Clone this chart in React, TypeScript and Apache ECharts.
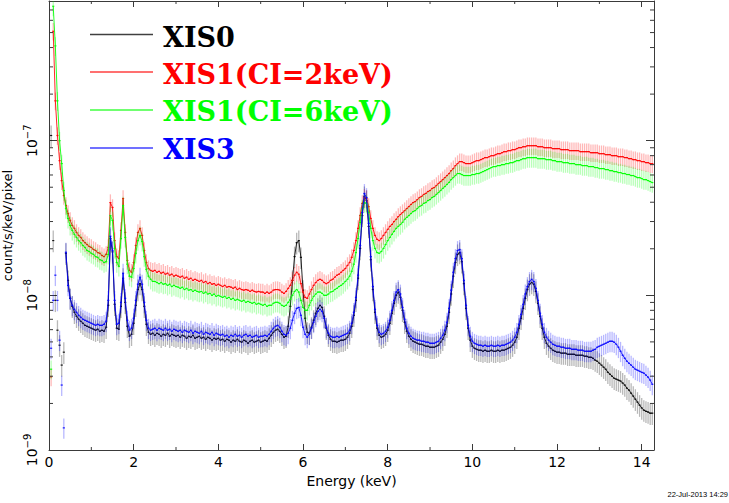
import React, { useEffect, useRef } from "react";
import * as echarts from "echarts";

// Energy bin centres (keV)
const energies = [
  0.05, 0.1, 0.15, 0.2, 0.25, 0.3, 0.35, 0.4, 0.45, 0.5, 0.55, 0.6, 0.65, 0.7, 0.75, 0.8, 0.85, 0.9, 0.95, 1,
  1.05, 1.1, 1.15, 1.2, 1.25, 1.3, 1.35, 1.4, 1.45, 1.5, 1.55, 1.6, 1.65, 1.7, 1.75, 1.8, 1.85, 1.9, 1.95, 2,
  2.05, 2.1, 2.15, 2.2, 2.25, 2.3, 2.35, 2.4, 2.45, 2.5, 2.55, 2.6, 2.65, 2.7, 2.75, 2.8, 2.85, 2.9, 2.95, 3,
  3.05, 3.1, 3.15, 3.2, 3.25, 3.3, 3.35, 3.4, 3.45, 3.5, 3.55, 3.6, 3.65, 3.7, 3.75, 3.8, 3.85, 3.9, 3.95, 4,
  4.05, 4.1, 4.15, 4.2, 4.25, 4.3, 4.35, 4.4, 4.45, 4.5, 4.55, 4.6, 4.65, 4.7, 4.75, 4.8, 4.85, 4.9, 4.95, 5,
  5.05, 5.1, 5.15, 5.2, 5.25, 5.3, 5.35, 5.4, 5.45, 5.5, 5.55, 5.6, 5.65, 5.7, 5.75, 5.8, 5.85, 5.9, 5.95, 6,
  6.05, 6.1, 6.15, 6.2, 6.25, 6.3, 6.35, 6.4, 6.45, 6.5, 6.55, 6.6, 6.65, 6.7, 6.75, 6.8, 6.85, 6.9, 6.95, 7,
  7.05, 7.1, 7.15, 7.2, 7.25, 7.3, 7.35, 7.4, 7.45, 7.5, 7.55, 7.6, 7.65, 7.7, 7.75, 7.8, 7.85, 7.9, 7.95, 8,
  8.05, 8.1, 8.15, 8.2, 8.25, 8.3, 8.35, 8.4, 8.45, 8.5, 8.55, 8.6, 8.65, 8.7, 8.75, 8.8, 8.85, 8.9, 8.95, 9,
  9.05, 9.1, 9.15, 9.2, 9.25, 9.3, 9.35, 9.4, 9.45, 9.5, 9.55, 9.6, 9.65, 9.7, 9.75, 9.8, 9.85, 9.9, 9.95, 10,
  10.05, 10.1, 10.15, 10.2, 10.25, 10.3, 10.35, 10.4, 10.45, 10.5, 10.55, 10.6, 10.65, 10.7, 10.75, 10.8, 10.85, 10.9, 10.95, 11,
  11.05, 11.1, 11.15, 11.2, 11.25, 11.3, 11.35, 11.4, 11.45, 11.5, 11.55, 11.6, 11.65, 11.7, 11.75, 11.8, 11.85, 11.9, 11.95, 12,
  12.05, 12.1, 12.15, 12.2, 12.25, 12.3, 12.35, 12.4, 12.45, 12.5, 12.55, 12.6, 12.65, 12.7, 12.75, 12.8, 12.85, 12.9, 12.95, 13,
  13.05, 13.1, 13.15, 13.2, 13.25, 13.3, 13.35, 13.4, 13.45, 13.5, 13.55, 13.6, 13.65, 13.7, 13.75, 13.8, 13.85, 13.9, 13.95, 14,
  14.05, 14.1, 14.15, 14.2, 14.25,
];

// Values in units of 1e-9 count/s/keV/pixel
const valueUnit = 1e-9;

const xis0 = [
  108, 22.6, 9.28, 5.95, 4.76, 3.54, 4.29, 18.7, 12.5, 9.56, 8.49, 7.77, 7.32, 7.01, 6.8, 6.6, 6.4, 6.31, 6.22, 6.13,
  6.04, 5.95, 6.04, 5.86, 5.95, 5.86, 6.22, 8.62, 23.3, 19.1, 8.75, 6.13, 6.04, 8.49, 12.9, 9.01, 6.31, 5.44, 5.6, 6.6,
  8.62, 10.9, 11.9, 10.9, 8.49, 6.5, 5.77, 5.6, 5.69, 5.52, 5.69, 5.6, 5.44, 5.6, 5.52, 5.69, 5.44, 5.6, 5.52, 5.44,
  5.52, 5.36, 5.52, 5.44, 5.28, 5.44, 5.36, 5.52, 5.28, 5.36, 5.44, 5.28, 5.36, 5.2, 5.36, 5.28, 5.13, 5.28, 5.2, 5.28,
  5.13, 5.2, 5.05, 5.2, 5.13, 4.98, 5.13, 5.05, 5.2, 5.05, 4.98, 5.13, 5.05, 4.9, 5.05, 5.13, 4.98, 5.05, 5.13, 4.98,
  5.05, 5.13, 5.05, 5.28, 5.52, 5.77, 5.95, 6.04, 5.86, 5.6, 5.36, 5.44, 6.31, 8.49, 12.5, 17.8, 21.9, 22.6, 17.6, 10.8,
  7.11, 5.77, 5.69, 6.22, 6.9, 7.66, 8.24, 8.62, 8.36, 7.32, 6.13, 5.52, 5.2, 5.05, 5.05, 4.98, 5.05, 5.13, 5.13, 5.2,
  5.36, 5.69, 6.31, 7.43, 9.28, 12.9, 20.1, 32.8, 43.6, 41.0, 27.9, 17.0, 10.9, 7.77, 6.13, 5.52, 5.36, 5.44, 5.6, 5.95,
  6.6, 7.66, 8.88, 10.0, 10.5, 9.7, 8.0, 6.7, 5.86, 5.44, 5.2, 5.05, 4.98, 4.9, 4.83, 4.83, 4.76, 4.69, 4.69, 4.62,
  4.62, 4.62, 4.69, 4.76, 4.98, 5.2, 5.6, 6.31, 7.77, 10.2, 13.3, 16.3, 18.4, 18.9, 16.5, 11.9, 8.24, 6.13, 5.13, 4.69,
  4.55, 4.48, 4.42, 4.42, 4.35, 4.42, 4.35, 4.35, 4.42, 4.35, 4.35, 4.42, 4.35, 4.42, 4.42, 4.48, 4.55, 4.62, 4.76, 4.98,
  5.36, 6.13, 7.11, 8.24, 9.56, 10.9, 11.8, 12.1, 11.8, 10.6, 8.88, 7.32, 6.13, 5.36, 4.9, 4.69, 4.55, 4.42, 4.35, 4.29,
  4.29, 4.23, 4.23, 4.23, 4.16, 4.16, 4.16, 4.16, 4.1, 4.1, 4.1, 4.1, 4.04, 4.04, 3.98, 3.98, 3.92, 3.81, 3.75, 3.64,
  3.54, 3.43, 3.33, 3.18, 3.09, 3.0, 2.91, 2.87, 2.83, 2.79, 2.71, 2.63, 2.51, 2.44, 2.33, 2.23, 2.13, 2.04, 1.95, 1.87,
  1.81, 1.78, 1.76, 1.73, 1.73,
];

const xis1ci2 = [
  2.97, 510, 181, 108, 74.3, 55.2, 44.2, 38.1, 33.8, 30.5, 28.3, 27.1, 25.5, 24.4, 23.7, 22.6, 21.9, 21.3, 20.7, 20.4,
  19.8, 19.5, 18.9, 18.7, 18.1, 17.8, 18.4, 20.4, 39.8, 37.0, 22.6, 17.8, 17.3, 26.3, 42.3, 25.5, 16.8, 14.5, 14.1, 16.3,
  21.0, 25.5, 27.1, 24.4, 19.5, 16.3, 14.9, 14.5, 14.3, 14.5, 14.1, 14.3, 13.9, 14.1, 13.7, 13.9, 13.5, 13.7, 13.3, 13.5,
  13.3, 13.1, 13.3, 12.9, 13.1, 12.7, 12.9, 12.5, 12.7, 12.5, 12.3, 12.5, 12.1, 12.3, 11.9, 12.1, 11.8, 11.9, 11.6, 11.8,
  11.6, 11.4, 11.6, 11.3, 11.4, 11.3, 11.1, 11.3, 10.9, 11.1, 10.9, 10.8, 10.9, 10.8, 10.6, 10.8, 10.6, 10.5, 10.6, 10.5,
  10.5, 10.3, 10.5, 10.3, 10.5, 10.8, 10.9, 10.9, 10.8, 10.5, 10.3, 10.6, 11.1, 11.6, 12.5, 13.5, 14.1, 13.7, 11.9, 10.5,
  9.7, 9.56, 10.2, 10.9, 11.6, 12.1, 12.5, 12.7, 12.5, 12.1, 11.9, 12.1, 12.5, 12.7, 13.1, 13.5, 13.7, 14.1, 14.5, 14.9,
  15.6, 16.3, 17.6, 19.5, 22.6, 27.1, 32.8, 39.3, 43.0, 42.4, 37.5, 31.4, 27.1, 24.4, 23.0, 22.6, 23.3, 24.4, 25.5, 26.7,
  27.9, 28.7, 30.0, 31.0, 32.3, 33.3, 34.3, 35.3, 36.4, 37.5, 38.7, 39.8, 40.4, 41.6, 42.9, 43.6, 44.9, 45.6, 46.9, 47.6,
  49.1, 49.8, 51.3, 52.9, 54.4, 56.0, 57.7, 59.5, 61.3, 64.0, 66.0, 69.0, 71.1, 73.2, 73.2, 72.1, 71.1, 71.1, 71.1, 72.1,
  73.2, 74.3, 74.3, 75.4, 76.5, 77.7, 77.7, 78.8, 80.0, 80.0, 81.2, 82.4, 82.4, 83.6, 84.9, 84.9, 86.2, 86.2, 87.5, 87.5,
  88.8, 90.1, 90.1, 91.4, 91.4, 92.8, 92.8, 92.8, 92.8, 92.8, 91.4, 91.4, 91.4, 90.1, 90.1, 90.1, 90.1, 88.8, 88.8, 88.8,
  88.8, 87.5, 87.5, 87.5, 87.5, 86.2, 86.2, 86.2, 86.2, 86.2, 84.9, 84.9, 84.9, 84.9, 84.9, 83.6, 83.6, 83.6, 83.6, 82.4,
  82.4, 82.4, 81.2, 81.2, 81.2, 80.0, 80.0, 80.0, 78.8, 78.8, 78.8, 77.7, 77.7, 76.5, 76.5, 75.4, 75.4, 74.3, 74.3, 73.2,
  73.2, 72.1, 72.1, 71.1, 71.1,
];

const xis1ci6 = [
  3.33, 740, 410, 181, 100, 71.1, 47.6, 36.4, 31.4, 28.3, 26.3, 24.8, 23.7, 22.6, 21.9, 21.0, 20.4, 19.5, 19.2, 18.7,
  18.4, 17.8, 17.6, 17.0, 16.8, 16.3, 16.5, 18.4, 32.8, 30.5, 20.1, 16.3, 15.4, 23.3, 38.1, 23.7, 15.9, 13.3, 13.1, 14.9,
  18.7, 22.6, 24.4, 22.3, 17.8, 14.7, 13.3, 12.7, 12.3, 12.3, 12.1, 11.9, 12.1, 11.8, 11.9, 11.6, 11.8, 11.4, 11.6, 11.4,
  11.3, 11.1, 11.3, 10.9, 11.1, 10.8, 10.9, 10.6, 10.8, 10.6, 10.5, 10.6, 10.3, 10.5, 10.2, 10.3, 10.0, 10.2, 9.85, 10.0,
  9.85, 9.7, 9.85, 9.56, 9.7, 9.42, 9.56, 9.28, 9.42, 9.28, 9.14, 9.28, 9.01, 9.14, 9.01, 8.88, 9.01, 8.75, 8.88, 8.75,
  8.62, 8.75, 8.49, 8.62, 8.62, 8.88, 9.01, 9.01, 8.88, 8.62, 8.49, 8.62, 9.01, 9.42, 10.0, 10.6, 10.9, 10.5, 9.28, 8.36,
  8.0, 8.0, 8.62, 9.28, 9.85, 10.2, 10.5, 10.5, 10.3, 10.0, 10.0, 10.2, 10.5, 10.6, 10.9, 11.1, 11.4, 11.6, 11.9, 12.3,
  12.7, 13.3, 14.3, 15.9, 18.9, 23.3, 29.6, 36.4, 39.8, 39.3, 34.3, 27.1, 22.6, 20.1, 18.9, 18.7, 19.2, 20.1, 21.3, 22.6,
  23.7, 24.8, 25.9, 27.1, 27.9, 28.7, 29.6, 31.0, 31.9, 32.8, 33.8, 34.8, 35.3, 36.4, 37.5, 38.1, 39.3, 39.8, 41.0, 41.6,
  42.9, 43.6, 44.9, 46.2, 47.6, 49.1, 50.5, 52.1, 53.7, 56.0, 57.7, 59.5, 61.3, 61.3, 60.4, 59.5, 59.5, 59.5, 59.5, 60.4,
  60.4, 61.3, 61.3, 62.2, 63.1, 64.0, 65.0, 66.0, 67.0, 68.0, 68.0, 69.0, 69.0, 70.0, 70.0, 71.1, 71.1, 72.1, 72.1, 73.2,
  74.3, 74.3, 75.4, 76.5, 76.5, 77.7, 77.7, 77.7, 77.7, 77.7, 76.5, 76.5, 76.5, 76.5, 75.4, 75.4, 75.4, 74.3, 74.3, 73.2,
  73.2, 73.2, 72.1, 72.1, 72.1, 71.1, 71.1, 71.1, 70.0, 70.0, 70.0, 69.0, 69.0, 69.0, 68.0, 68.0, 68.0, 67.0, 67.0, 66.0,
  66.0, 66.0, 65.0, 65.0, 64.0, 64.0, 63.1, 63.1, 62.2, 62.2, 61.3, 61.3, 60.4, 60.4, 59.5, 59.5, 58.6, 57.7, 57.7, 56.9,
  56.0, 56.0, 55.2, 54.4, 53.6,
];

const xis3 = [
  4.55, 9.28, 13.5, 9.28, 5.13, 2.63, 1.39, 19.0, 11.6, 9.56, 8.62, 8.12, 7.77, 7.43, 7.22, 7.01, 6.9, 6.8, 6.7, 6.6,
  6.5, 6.4, 6.5, 6.4, 6.4, 6.5, 6.8, 9.28, 24.1, 19.5, 9.28, 6.5, 6.6, 9.01, 13.9, 9.56, 6.9, 5.95, 6.13, 7.11,
  9.28, 11.8, 13.1, 11.8, 9.01, 6.9, 6.13, 5.95, 6.04, 6.13, 5.95, 6.13, 6.04, 5.95, 6.13, 5.95, 6.04, 5.86, 6.04, 5.95,
  5.86, 5.95, 5.77, 5.95, 5.86, 5.77, 5.95, 5.69, 5.86, 5.77, 5.69, 5.86, 5.6, 5.77, 5.69, 5.6, 5.77, 5.52, 5.69, 5.6,
  5.52, 5.6, 5.44, 5.52, 5.36, 5.52, 5.44, 5.6, 5.44, 5.52, 5.36, 5.52, 5.6, 5.44, 5.52, 5.36, 5.44, 5.52, 5.36, 5.44,
  5.44, 5.52, 5.44, 5.6, 5.86, 6.13, 6.31, 6.4, 6.22, 5.86, 5.6, 5.52, 5.69, 6.13, 6.9, 7.66, 8.24, 8.36, 7.43, 6.22,
  5.6, 5.36, 5.6, 6.13, 6.7, 7.32, 7.88, 8.12, 7.88, 7.11, 6.22, 5.69, 5.44, 5.36, 5.36, 5.44, 5.36, 5.44, 5.52, 5.6,
  5.69, 5.95, 6.6, 7.77, 9.7, 13.5, 21.0, 34.3, 45.6, 42.9, 29.2, 17.8, 11.4, 8.12, 6.4, 5.77, 5.6, 5.69, 5.86, 6.22,
  6.9, 8.0, 9.28, 10.5, 10.9, 10.2, 8.36, 7.01, 6.13, 5.69, 5.44, 5.28, 5.2, 5.13, 5.13, 5.05, 5.05, 4.98, 4.98, 4.9,
  4.9, 4.9, 4.98, 5.05, 5.28, 5.52, 5.95, 6.7, 8.24, 10.8, 14.1, 17.3, 19.5, 19.8, 17.3, 12.5, 8.62, 6.4, 5.44, 5.05,
  4.9, 4.83, 4.76, 4.76, 4.69, 4.76, 4.69, 4.69, 4.76, 4.69, 4.69, 4.76, 4.69, 4.76, 4.76, 4.83, 4.9, 4.98, 5.13, 5.36,
  5.77, 6.5, 7.54, 8.75, 10.2, 11.4, 12.3, 12.7, 12.3, 11.1, 9.28, 7.66, 6.5, 5.77, 5.36, 5.13, 4.98, 4.83, 4.76, 4.69,
  4.69, 4.62, 4.62, 4.55, 4.55, 4.55, 4.48, 4.48, 4.48, 4.42, 4.42, 4.42, 4.35, 4.35, 4.35, 4.35, 4.42, 4.48, 4.62, 4.69,
  4.76, 4.83, 4.9, 4.98, 5.05, 5.05, 4.98, 4.83, 4.62, 4.35, 4.1, 3.92, 3.75, 3.64, 3.54, 3.43, 3.33, 3.28, 3.23, 3.18,
  3.14, 3.05, 2.96, 2.83, 2.66,
];

const seriesNames = ["XIS0", "XIS1(CI=2keV)", "XIS1(CI=6keV)", "XIS3"];
const seriesColors = ["#000000", "#ff0000", "#00ff00", "#0000ff"];
const relErrors = [0.16, 0.13, 0.14, 0.15];
// Below these energies the points are scattered (drawn only as isolated error bars)
const continuousFrom = [0.4, 0.1, 0.1, 0.4];

const xMin = 0;
const xMax = 14.29;
const xInterval = 2;
const yMin = 1e-9;
const yMax = 8e-7;
const xMinorTicks = [1, 3, 5, 7, 9, 11, 13];
const yMinorTicks = [
  2e-9, 3e-9, 4e-9, 5e-9, 6e-9, 7e-9, 8e-9, 9e-9,
  2e-8, 3e-8, 4e-8, 5e-8, 6e-8, 7e-8, 8e-8, 9e-8,
  2e-7, 3e-7, 4e-7, 5e-7, 6e-7, 7e-7,
];
const xAxisTitle = "Energy (keV)";
const yAxisTitle = "count/s/keV/pixel";
const dateStamp = "22-Jul-2013 14:29";

const AXIS_COLOR = "#3a3a3a";
const SANS = "'DejaVu Sans', 'Liberation Sans', sans-serif";
const SERIF = "'DejaVu Serif', 'Liberation Serif', serif";

export default function App() {
  const ref = useRef<HTMLDivElement>(null);

  useEffect(() => {
    if (!ref.current) return;
    const chart = echarts.init(ref.current, null, { renderer: "svg" });
    const binHalf = 0.025;
    const allSeries = [xis0, xis1ci2, xis1ci6, xis3];

    const errorSeries = allSeries.map((vals, k) => ({
      type: "custom",
      name: seriesNames[k] + " err",
      clip: true,
      silent: true,
      z: 2 + 2 * k,
      data: energies.map((e, i) => [e, vals[i] * valueUnit]),
      encode: { x: 0, y: 1 },
      renderItem: (params: any, api: any) => {
        const e = api.value(0);
        const v = api.value(1);
        const c = api.coord([e, v]);
        const lo = api.coord([e, v * (1 - relErrors[k])]);
        const hi = api.coord([e, v * (1 + relErrors[k])]);
        const l = api.coord([e - binHalf, v]);
        const r = api.coord([e + binHalf, v]);
        return {
          type: "group",
          children: [
            {
              type: "line",
              shape: { x1: c[0], y1: lo[1], x2: c[0], y2: hi[1] },
              style: { stroke: seriesColors[k], lineWidth: 1.3, opacity: 0.28 },
            },
            {
              type: "line",
              shape: { x1: l[0], y1: c[1], x2: r[0], y2: c[1] },
              style: { stroke: seriesColors[k], lineWidth: 1.2, opacity: 0.9 },
            },
          ],
        };
      },
    }));

    const lineSeries = allSeries.map((vals, k) => ({
      type: "line",
      name: seriesNames[k],
      silent: true,
      showSymbol: false,
      symbol: "none",
      clip: true,
      z: 3 + 2 * k,
      data: energies
        .map((e, i) => [e, vals[i] * valueUnit])
        .filter((p) => p[0] >= continuousFrom[k] - 1e-9),
      lineStyle: { color: seriesColors[k], width: 1, opacity: 0.85 },
    }));

    const yMinorSeries = {
      type: "custom",
      silent: true,
      clip: false,
      z: 20,
      data: yMinorTicks.map((v) => [xMin, v]),
      encode: { x: 0, y: 1 },
      renderItem: (params: any, api: any) => {
        const cs = params.coordSys;
        const p = api.coord([xMin, api.value(1)]);
        const st = { stroke: AXIS_COLOR, lineWidth: 1 };
        return {
          type: "group",
          children: [
            { type: "line", shape: { x1: cs.x, y1: p[1], x2: cs.x + 4, y2: p[1] }, style: st },
            { type: "line", shape: { x1: cs.x + cs.width - 4, y1: p[1], x2: cs.x + cs.width, y2: p[1] }, style: st },
          ],
        };
      },
    };

    const xMinorSeries = {
      type: "custom",
      silent: true,
      clip: false,
      z: 20,
      data: xMinorTicks.map((e) => [e, yMin]),
      encode: { x: 0, y: 1 },
      renderItem: (params: any, api: any) => {
        const cs = params.coordSys;
        const p = api.coord([api.value(0), yMin]);
        const st = { stroke: AXIS_COLOR, lineWidth: 1 };
        return {
          type: "group",
          children: [
            { type: "line", shape: { x1: p[0], y1: cs.y + cs.height, x2: p[0], y2: cs.y + cs.height - 3 }, style: st },
            { type: "line", shape: { x1: p[0], y1: cs.y, x2: p[0], y2: cs.y + 3 }, style: st },
          ],
        };
      },
    };

    const legendLineY = [34.5, 72, 110, 148];
    const legendTextY = [37.5, 74, 111.5, 149];
    const legendGraphics: any[] = [];
    seriesNames.forEach((name, k) => {
      legendGraphics.push({
        type: "line",
        shape: { x1: 90, y1: legendLineY[k], x2: 153, y2: legendLineY[k] },
        style: { stroke: seriesColors[k], lineWidth: 1.3, opacity: 0.75 },
      });
      legendGraphics.push({
        type: "text",
        x: 163,
        y: legendTextY[k],
        style: {
          text: name,
          fill: seriesColors[k],
          font: `bold 27px ${SERIF}`,
          textVerticalAlign: "middle",
          verticalAlign: "middle",
          textAlign: "left",
          align: "left",
        },
      });
    });
    legendGraphics.push({
      type: "text",
      x: 728,
      y: 494,
      style: {
        text: dateStamp,
        fill: "#000",
        font: "7.5px 'Liberation Sans', sans-serif",
        textAlign: "right",
        align: "right",
        textVerticalAlign: "middle",
        verticalAlign: "middle",
      },
    });

    const axisLine = { show: true, onZero: false, lineStyle: { color: AXIS_COLOR, width: 1 } };

    const series: any[] = [];
    allSeries.forEach((_, k) => {
      series.push(errorSeries[k]);
      series.push(lineSeries[k]);
    });
    series.push(yMinorSeries, xMinorSeries);

    chart.setOption({
      animation: false,
      backgroundColor: "#ffffff",
      grid: { left: 49, right: 75, top: 1, bottom: 53, containLabel: false, outerBoundsMode: "none" },
      xAxis: [
        {
          type: "value",
          min: xMin,
          max: xMax,
          interval: xInterval,
          position: "bottom",
          axisLine,
          axisTick: { show: true, inside: true, length: 6, lineStyle: { color: AXIS_COLOR } },
          splitLine: { show: false },
          axisLabel: {
            show: true,
            margin: 5,
            color: "#000",
            fontFamily: SANS,
            fontSize: 14,
            showMaxLabel: false,
            formatter: (v: number) => (Math.abs(v - xMax) < 1e-9 ? "" : String(v)),
          },
          name: xAxisTitle,
          nameLocation: "middle",
          nameGap: 20,
          nameTextStyle: { color: "#000", fontFamily: SANS, fontSize: 14 },
        },
        {
          type: "value",
          min: xMin,
          max: xMax,
          interval: xInterval,
          position: "top",
          axisLine,
          axisTick: { show: true, inside: true, length: 6, lineStyle: { color: AXIS_COLOR } },
          splitLine: { show: false },
          axisLabel: { show: false },
        },
      ],
      yAxis: [
        {
          type: "log",
          logBase: 10,
          min: yMin,
          max: yMax,
          position: "left",
          axisLine,
          axisTick: { show: true, inside: true, length: 8, lineStyle: { color: AXIS_COLOR } },
          splitLine: { show: false },
          axisLabel: {
            show: true,
            rotate: 90,
            margin: 8,
            showMaxLabel: false,
            formatter: (v: number) => {
              const lg = Math.log10(v);
              const ex = Math.round(lg);
              if (Math.abs(lg - ex) > 1e-6) return "";
              return `{b|10}{s|\u2212${Math.abs(ex)}}`;
            },
            rich: {
              b: { fontFamily: SANS, fontSize: 14, color: "#000", lineHeight: 19 },
              s: { fontFamily: SANS, fontSize: 10, color: "#000", lineHeight: 11, verticalAlign: "top" },
            },
          },
          name: yAxisTitle,
          nameLocation: "middle",
          nameRotate: 90,
          nameGap: 32,
          nameTextStyle: { color: "#000", fontFamily: SANS, fontSize: 13 },
        },
        {
          type: "log",
          logBase: 10,
          min: yMin,
          max: yMax,
          position: "right",
          axisLine,
          axisTick: { show: true, inside: true, length: 8, lineStyle: { color: AXIS_COLOR } },
          splitLine: { show: false },
          axisLabel: { show: false },
        },
      ],
      series,
      graphic: { elements: legendGraphics },
    });

    return () => {
      chart.dispose();
    };
  }, []);

  return (
    <div
      ref={ref}
      style={{ position: "fixed", left: 0, top: 0, width: 729, height: 503, background: "#fff" }}
    />
  );
}
